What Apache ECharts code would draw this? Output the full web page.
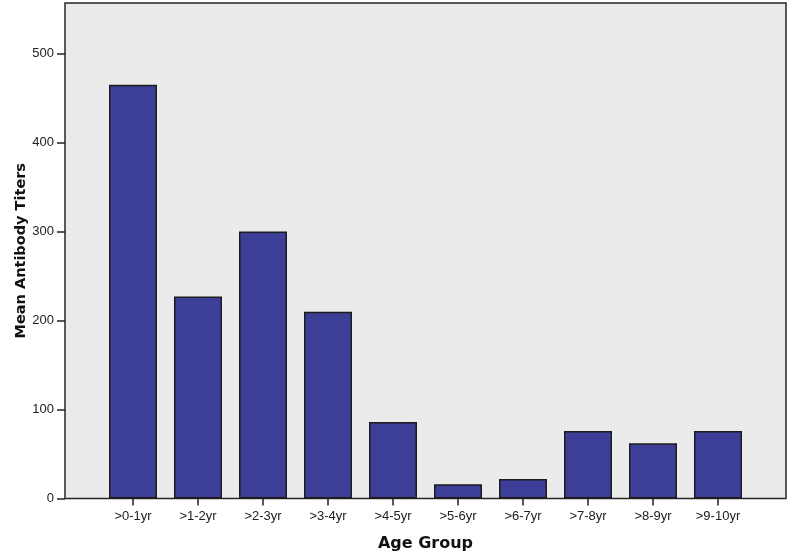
<!DOCTYPE html>
<html>
<head>
<meta charset="utf-8">
<script src="https://cdn.jsdelivr.net/npm/echarts@6/dist/echarts.min.js"></script>
<style>html,body{margin:0;padding:0;background:#fff;}#c{width:792px;height:554px;}</style>
</head>
<body>
<div id="c"></div>
<script>
const categories = [">0-1yr", ">1-2yr", ">2-3yr", ">3-4yr", ">4-5yr", ">5-6yr", ">6-7yr", ">7-8yr", ">8-9yr", ">9-10yr"];
const meanTiters = [465, 227, 300, 210, 86, 16, 22, 76, 62, 76];
const yTicks = [0, 100, 200, 300, 400, 500];
const yMax = 557;

const chart = echarts.init(document.getElementById('c'));
const labelFont = 'Arial, "Liberation Sans", sans-serif';
const titleFont = '"DejaVu Sans", Verdana, sans-serif';
chart.setOption({
  animation: false,
  backgroundColor: '#ffffff',
  grid: [
    { left: 65, right: 6, top: 3, bottom: 55.5, show: true, backgroundColor: '#ebebeb', borderColor: '#262626', borderWidth: 1.5, z: 0, containLabel: false, outerBoundsMode: 'none' },
    { left: 100.5, width: 650, top: 3, bottom: 55.5, show: false, containLabel: false, outerBoundsMode: 'none' }
  ],
  xAxis: [
    { type: 'value', gridIndex: 0, min: 0, max: 1, show: false },
    { type: 'category', gridIndex: 1, data: categories,
      axisLine: { show: false },
      axisTick: { show: true, alignWithLabel: true, length: 7, lineStyle: { color: '#222', width: 1.5 } },
      axisLabel: { color: '#222', fontFamily: labelFont, fontSize: 13, margin: 11 },
      name: 'Age Group', nameLocation: 'middle', nameGap: 37, nameMoveOverlap: false,
      nameTextStyle: { fontFamily: titleFont, fontWeight: 'bold', fontSize: 16, color: '#111' }
    }
  ],
  yAxis: [
    { type: 'value', gridIndex: 0, min: 0, max: yMax, interval: 100,
      axisLine: { show: false },
      splitLine: { show: false },
      axisTick: { show: true, length: 8, lineStyle: { color: '#222', width: 1.5 }, customValues: yTicks },
      axisLabel: { color: '#222', fontFamily: labelFont, fontSize: 13, margin: 11, customValues: yTicks },
      name: 'Mean Antibody Titers', nameLocation: 'middle', nameGap: 36, nameMoveOverlap: false,
      nameTextStyle: { fontFamily: titleFont, fontWeight: 'bold', fontSize: 14.5, color: '#111' }
    },
    { type: 'value', gridIndex: 1, min: 0, max: yMax, show: false }
  ],
  series: [{
    type: 'bar', xAxisIndex: 1, yAxisIndex: 1, data: meanTiters,
    barWidth: 48,
    itemStyle: { color: '#3c3e98', borderColor: '#1c1c1c', borderWidth: 1.5 }
  }]
});
</script>
</body>
</html>
